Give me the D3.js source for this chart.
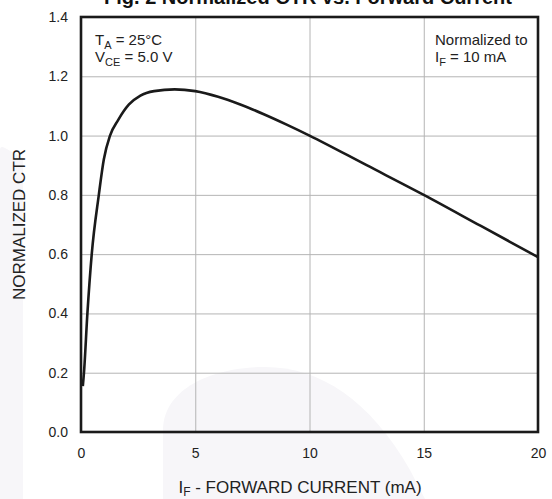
<!DOCTYPE html>
<html>
<head>
<meta charset="utf-8">
<script src="https://cdn.jsdelivr.net/npm/d3@7"></script>
<style>
  html, body { margin: 0; padding: 0; background: #fff; }
  svg { display: block; font-family: "Liberation Sans", Arial, sans-serif; }
  .grid line { stroke: #b4b4b4; stroke-width: 1; }
  .grid .domain { display: none; }
  .tick text { fill: #222; font-size: 14px; }
</style>
</head>
<body>
<svg id="svg"></svg>
<script>
// data
const forwardCurrent = [0.08, 0.13, 0.28, 0.47, 0.78, 1.0, 1.27, 1.63, 2.1, 2.6, 3.2, 4.1, 5.0, 6.0, 7.0, 8.0, 9.0, 10, 12.5, 15, 17.5, 20];
const normalizedCtr = [0.155, 0.2, 0.4, 0.6, 0.8, 0.92, 1.0, 1.053, 1.105, 1.135, 1.15, 1.156, 1.15, 1.131, 1.104, 1.072, 1.037, 1.0, 0.9, 0.8, 0.695, 0.59];
const xTicks = [0, 5, 10, 15, 20];
const yTicks = [0.0, 0.2, 0.4, 0.6, 0.8, 1.0, 1.2, 1.4];

const width = 552;
const height = 499;
const margin = { top: 17, right: 14, bottom: 67, left: 81 };
const chartWidth = width - margin.left - margin.right;
const chartHeight = height - margin.top - margin.bottom;

let svg = d3.select("#svg").attr("width", width).attr("height", height);

// faint watermark in the background
svg.append("path")
    .attr("d", "M0,150 Q0,145 5,148 L23,158 L23,499 L0,499 Z")
    .attr("fill", "#f7f6f9");
svg.append("path")
    .attr("d", "M163,499 L163,430 C163,390 210,367 265,367 C320,367 370,400 410,470 L425,499 Z")
    .attr("fill", "#f7f6f9");

const chart = svg.append("g")
    .attr("transform", `translate(${margin.left},${margin.top})`);

const xScale = d3.scaleLinear().domain([0, 20]).range([0, chartWidth]);
const yScale = d3.scaleLinear().domain([0, 1.4]).range([chartHeight, 0]);

// grid lines
chart.append("g")
    .attr("class", "grid")
    .attr("transform", `translate(0,${chartHeight})`)
    .call(d3.axisBottom(xScale).tickValues(xTicks).tickSize(-chartHeight).tickFormat(""));
chart.append("g")
    .attr("class", "grid")
    .call(d3.axisLeft(yScale).tickValues(yTicks).tickSize(-chartWidth).tickFormat(""));

// tick labels
const xAxis = chart.append("g")
    .attr("transform", `translate(0,${chartHeight})`)
    .call(d3.axisBottom(xScale).tickValues(xTicks).tickSize(0).tickPadding(16).tickFormat(d3.format("d")));
xAxis.select(".domain").remove();

const yAxis = chart.append("g")
    .call(d3.axisLeft(yScale).tickValues(yTicks).tickSize(0).tickPadding(13).tickFormat(d3.format(".1f")));
yAxis.select(".domain").remove();

// the curve
const line = d3.line()
    .x((d, i) => xScale(forwardCurrent[i]))
    .y(d => yScale(d))
    .curve(d3.curveMonotoneX);

chart.append("path")
    .datum(normalizedCtr)
    .attr("d", line)
    .attr("fill", "none")
    .attr("stroke", "#1a1a1a")
    .attr("stroke-width", 2.6)
    .attr("stroke-linejoin", "round");

// frame
chart.append("rect")
    .attr("width", chartWidth)
    .attr("height", chartHeight)
    .attr("fill", "none")
    .attr("stroke", "#1a1a1a")
    .attr("stroke-width", 2.6);

// title, clipped at the top like the original
svg.append("text")
    .attr("x", 308)
    .attr("y", 4)
    .attr("text-anchor", "middle")
    .style("font-size", "20px")
    .style("font-weight", "bold")
    .attr("fill", "#111")
    .text("Fig. 2  Normalized CTR vs. Forward Current");

// conditions
const cond = chart.append("text")
    .attr("x", 14)
    .attr("y", 28)
    .attr("fill", "#222")
    .style("font-size", "15px");
cond.append("tspan").text("T");
cond.append("tspan").attr("dy", 4).style("font-size", "11px").text("A");
cond.append("tspan").attr("dy", -4).text(" = 25°C");

const cond2 = chart.append("text")
    .attr("x", 14)
    .attr("y", 45)
    .attr("fill", "#222")
    .style("font-size", "15px");
cond2.append("tspan").text("V");
cond2.append("tspan").attr("dy", 4).style("font-size", "11px").text("CE");
cond2.append("tspan").attr("dy", -4).text(" = 5.0 V");

chart.append("text")
    .attr("x", 354)
    .attr("y", 28)
    .attr("fill", "#222")
    .style("font-size", "15px")
    .text("Normalized to");

const norm = chart.append("text")
    .attr("x", 354)
    .attr("y", 45)
    .attr("fill", "#222")
    .style("font-size", "15px");
norm.append("tspan").text("I");
norm.append("tspan").attr("dy", 4).style("font-size", "11px").text("F");
norm.append("tspan").attr("dy", -4).text(" = 10 mA");

// axis titles
const xTitle = svg.append("text")
    .attr("x", 300)
    .attr("y", 493)
    .attr("text-anchor", "middle")
    .attr("fill", "#222")
    .style("font-size", "17px");
xTitle.append("tspan").text("I");
xTitle.append("tspan").attr("dy", 3).style("font-size", "12px").text("F");
xTitle.append("tspan").attr("dy", -3).text(" - FORWARD CURRENT (mA)");

svg.append("text")
    .attr("transform", `translate(25,${margin.top + chartHeight / 2}) rotate(-90)`)
    .attr("text-anchor", "middle")
    .attr("fill", "#222")
    .style("font-size", "17px")
    .text("NORMALIZED CTR");
</script>
</body>
</html>
